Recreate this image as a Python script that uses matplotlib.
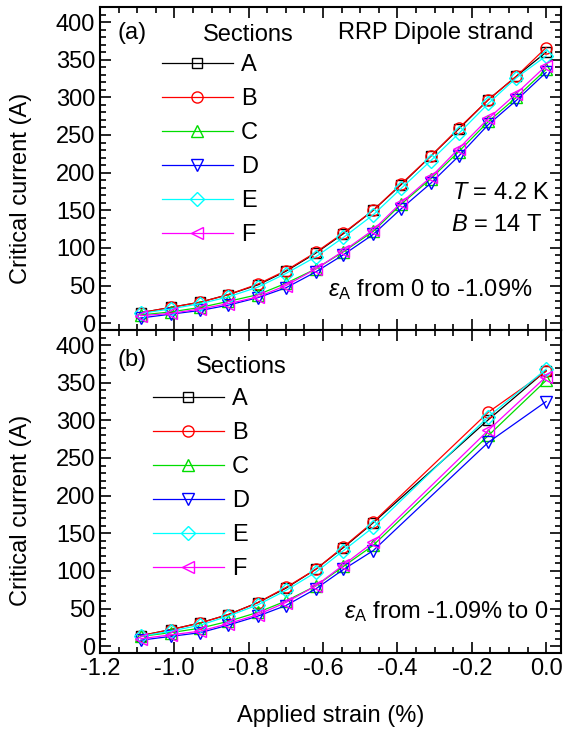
import numpy as np
import matplotlib
matplotlib.use('Agg')
import matplotlib.pyplot as plt
from matplotlib.ticker import MultipleLocator
from matplotlib.lines import Line2D

plt.rcParams['font.family'] = ['Liberation Sans', 'DejaVu Sans']
plt.rcParams['mathtext.fontset'] = 'custom'
plt.rcParams['mathtext.rm'] = 'Liberation Sans'
plt.rcParams['mathtext.it'] = 'Liberation Sans:italic'
plt.rcParams['mathtext.sf'] = 'Liberation Sans'

sections = ['A', 'B', 'C', 'D', 'E', 'F']
colors = ['black', 'red', '#00dd00', 'blue', 'cyan', 'magenta']
markers = ['s', 'o', '^', 'v', 'D', '<']

# (a) strain applied from 0 to -1.09 %
strain_a = [-1.09, -1.01, -0.93, -0.855, -0.775, -0.70, -0.62, -0.545,
            -0.465, -0.39, -0.31, -0.235, -0.155, -0.08, 0.0]
ic_a = {
    'A': [14, 21, 28, 38, 51, 69, 93, 119, 150, 184, 222, 258, 297, 328, 360],
    'B': [14, 21, 28, 38, 52, 70, 94, 120, 150, 185, 222, 259, 297, 328, 366],
    'C': [11, 15, 21, 29, 38, 53, 72, 95, 122, 158, 192, 228, 268, 300, 337],
    'D': [7, 12, 17, 24, 34, 47, 68, 91, 118, 152, 186, 222, 264, 296, 333],
    'E': [13, 19, 26, 35, 48, 66, 88, 114, 144, 179, 216, 252, 292, 326, 355],
    'F': [10, 13, 19, 26, 35, 50, 72, 96, 124, 160, 194, 232, 272, 305, 342],
}

# (b) strain released from -1.09 % back to 0
strain_b = [-1.09, -1.01, -0.93, -0.855, -0.775, -0.70, -0.62, -0.545,
            -0.465, -0.155, 0.0]
ic_b = {
    'A': [14, 22, 31, 42, 58, 77, 102, 131, 164, 301, 366],
    'B': [14, 22, 31, 42, 58, 78, 102, 132, 165, 311, 365],
    'C': [13, 18, 24, 33, 45, 60, 80, 106, 134, 280, 353],
    'D': [8, 13, 18, 28, 40, 54, 76, 102, 127, 271, 325],
    'E': [13, 20, 28, 40, 55, 74, 98, 127, 158, 305, 368],
    'F': [10, 15, 20, 30, 42, 58, 80, 108, 138, 287, 358],
}

fs = 17
fig = plt.figure(figsize=(5.63, 7.35), dpi=100)
ax1 = fig.add_axes([0.1776, 0.551, 0.8188, 0.4395])
ax2 = fig.add_axes([0.1776, 0.1116, 0.8188, 0.4394])


def msize(m):
    return 7 if m in ('s', 'D') else 8


def draw(ax, x, data, leg_xy):
    for s, c, m in zip(sections, colors, markers):
        ax.plot(x, data[s], color=c, marker=m, ms=msize(m), mfc='none', mec=c,
                mew=1.0, lw=0.9)
    ax.set_xlim(-1.2, 0.04)
    ax.set_ylim(-9, 420)
    ax.xaxis.set_major_locator(MultipleLocator(0.2))
    ax.xaxis.set_minor_locator(MultipleLocator(0.05))
    ax.yaxis.set_major_locator(MultipleLocator(50))
    ax.yaxis.set_minor_locator(MultipleLocator(10))
    ax.tick_params(which='both', direction='in', top=True, right=True,
                   labelsize=fs, width=1.2)
    ax.tick_params(which='major', length=8)
    ax.tick_params(which='minor', length=4)
    for sp in ax.spines.values():
        sp.set_linewidth(1.5)
    ax.set_ylabel('Critical current (A)', fontsize=fs)
    ax.yaxis.set_label_coords(-0.148, 0.44)
    handles = [Line2D([], [], color=c, marker=m, ms=msize(m),
                      mfc='none', mec=c, mew=1.0, lw=0.9)
               for c, m in zip(colors, markers)]
    ax.legend(handles, sections, loc='upper left', bbox_to_anchor=leg_xy,
              frameon=False, numpoints=1, handlelength=3.0, handletextpad=0.35,
              labelspacing=0.51, borderpad=0, borderaxespad=0, fontsize=fs)


draw(ax1, strain_a, ic_a, (0.134, 0.855))
draw(ax2, strain_b, ic_b, (0.115, 0.82))
ax1.tick_params(labelbottom=False)
ax2.xaxis.set_major_formatter(matplotlib.ticker.FormatStrFormatter('%.1f'))
ax2.set_xlabel('Applied strain (%)', fontsize=fs, labelpad=18)

ax1.text(0.039, 0.92, '(a)', transform=ax1.transAxes, fontsize=fs, va='center')
ax1.text(0.223, 0.913, 'Sections', transform=ax1.transAxes, fontsize=fs, va='center')
ax1.text(0.94, 0.92, 'RRP Dipole strand', transform=ax1.transAxes, fontsize=fs,
         va='center', ha='right')
ax1.text(0.976, 0.424, '$T$ = 4.2 K', transform=ax1.transAxes, fontsize=fs,
         va='center', ha='right')
ax1.text(0.96, 0.325, '$B$ = 14 T', transform=ax1.transAxes, fontsize=fs,
         va='center', ha='right')
ax1.text(0.939, 0.124, r'$\varepsilon_\mathrm{A}$ from 0 to -1.09%',
         transform=ax1.transAxes, fontsize=fs, va='center', ha='right')

ax2.text(0.039, 0.907, '(b)', transform=ax2.transAxes, fontsize=fs, va='center')
ax2.text(0.208, 0.885, 'Sections', transform=ax2.transAxes, fontsize=fs, va='center')
ax2.text(0.972, 0.127, r'$\varepsilon_\mathrm{A}$ from -1.09% to 0',
         transform=ax2.transAxes, fontsize=fs, va='center', ha='right')

fig.savefig('out.png', dpi=100)
